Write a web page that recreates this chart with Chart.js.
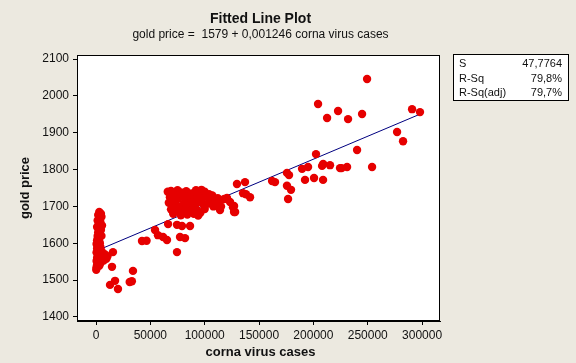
<!DOCTYPE html>
<html>
<head>
<meta charset="utf-8">
<script src="https://cdn.jsdelivr.net/npm/chart.js@4"></script>
<style>
  html, body { margin: 0; padding: 0; background: #ece9e0; }
  #wrap { width: 576px; height: 363px; position: relative; box-sizing: border-box; border-left: 1px solid #555; border-right: 1px solid #555; }
  canvas { position: absolute; left: -1px; top: 0; }
</style>
</head>
<body>
<div id="wrap"><canvas id="fitChart" width="576" height="363"></canvas></div>
<script>
// corna virus cases vs gold price
const casesX = [
  3000, 4500, 2000, 5000, 3500, 1500, 4000, 2500, 5500, 1000, 3000, 4500, 2000, 3500, 1500, 2500, 1000, 3000, 500, 2000,
  4000, 1000, 3000, 5000, 500, 2000, 4000, 6000, 8000, 1000, 3000, 5000, 7000, 9500, 500, 2000, 4000, 1000, 3000, 500,
  200, 6000, 8000, 1500, 3500, 2500, 5000, 3500, 6500, 10500,
  15600, 14700, 34000, 31000, 33000, 17500, 12900, 20200,
  42300, 46500, 54300, 57000, 61700, 65300, 66300, 74500, 79100, 86500, 74500, 77300, 81900,
  66000, 69000, 75000, 78000, 83000, 88000, 92000, 97000, 100000, 104000, 107000,
  68000, 72000, 76000, 80000, 84000, 87000, 90000, 94000, 98000, 101000, 106000, 110000,
  67000, 70000, 73000, 77000, 81000, 85000, 88000, 91000, 95000, 99000, 103000, 108000,
  69000, 73000, 76000, 79000, 82000, 86000, 89000, 93000, 96000, 100000,
  71000, 78000, 84000, 90000, 94000,
  112000, 114000, 118000, 120500, 123300, 114100, 126000, 128000, 129700, 137100, 135300, 138000, 141700,
  111000, 115000, 127000, 127000,
  162000, 164700, 175700, 177600, 175700, 179400, 176700, 189600, 195100, 192300, 200600, 208900, 202400, 208000,
  209000, 215300, 224500, 226000, 231000, 249400, 204300, 212600, 222700, 231900, 244800, 290800, 298100, 277000,
  282500, 240200, 254000
];
const goldPrice = [
  1685, 1680, 1677, 1672, 1668, 1662, 1658, 1652, 1648, 1644, 1640, 1636, 1630, 1625, 1620, 1614, 1608, 1603, 1598, 1594,
  1590, 1586, 1582, 1579, 1575, 1572, 1568, 1565, 1563, 1561, 1558, 1556, 1553, 1558, 1552, 1549, 1546, 1542, 1539, 1535,
  1528, 1572, 1570, 1590, 1600, 1610, 1620, 1648, 1560, 1565,
  1576, 1536, 1525, 1495, 1497, 1498, 1487, 1476,
  1606, 1607, 1636, 1622, 1617, 1609, 1652, 1650, 1647, 1647, 1576, 1617, 1614,
  1740, 1742, 1744, 1738, 1741, 1735, 1744, 1745, 1740, 1733, 1730,
  1725, 1730, 1722, 1728, 1720, 1725, 1718, 1730, 1722, 1728, 1720, 1715,
  1710, 1705, 1712, 1700, 1708, 1702, 1710, 1698, 1712, 1705, 1708, 1700,
  1692, 1688, 1695, 1684, 1690, 1686, 1695, 1690, 1683, 1693,
  1680, 1676, 1678, 1680, 1675,
  1722, 1716, 1720, 1723, 1712, 1690, 1698, 1685, 1761, 1766, 1736, 1733, 1725,
  1705, 1700, 1701, 1685,
  1769, 1766, 1791, 1785, 1756, 1745, 1720, 1802, 1807, 1772, 1777, 1772, 1842, 1810,
  1815, 1812, 1804, 1804, 1807, 2046, 1978, 1940, 1959, 1937, 1951, 1964, 1956, 1902,
  1877, 1853, 1807
];
const xTicks = [0, 50000, 100000, 150000, 200000, 250000, 300000];
const yTicks = [1400, 1500, 1600, 1700, 1800, 1900, 2000, 2100];
const fitIntercept = 1579;
const fitSlope = 0.001246;
const statLabels = ['S', 'R-Sq', 'R-Sq(adj)'];
const statValues = ['47,7764', '79,8%', '79,7%'];

const points = casesX.map((x, i) => ({ x: x, y: goldPrice[i] }));
const xMin = Math.min(...casesX), xMax = Math.max(...casesX);
const fitLine = [xMin, xMax].map(x => ({ x: x, y: fitIntercept + fitSlope * x }));

const FONT = '"Liberation Sans", Arial, sans-serif';

const decorPlugin = {
    id: 'decor',
    beforeDraw(chart) {
        const c = chart.ctx, a = chart.chartArea;
        c.save();
        c.fillStyle = '#ece9e0';
        c.fillRect(0, 0, chart.width, chart.height);
        c.fillStyle = '#fff';
        c.fillRect(a.left, a.top, a.right - a.left, a.bottom - a.top);
        c.restore();
    },
    afterDraw(chart) {
        const c = chart.ctx, a = chart.chartArea;
        const cx = (a.left + a.right) / 2 + 2;
        c.save();
        c.strokeStyle = '#000';
        c.lineWidth = 1;
        c.strokeRect(a.left + 0.5, a.top + 0.5, a.right - a.left - 1, a.bottom - a.top - 1);

        c.fillStyle = '#111';
        c.textAlign = 'center';
        c.textBaseline = 'middle';
        c.font = 'bold 14px ' + FONT;
        c.fillText('Fitted Line Plot', cx, 19);
        c.font = '12px ' + FONT;
        c.fillText('gold price =  1579 + 0,001246 corna virus cases', cx, 35);

        c.font = 'bold 13px ' + FONT;
        c.fillText('corna virus cases', cx, 352);
        c.save();
        c.translate(25, (a.top + a.bottom) / 2);
        c.rotate(-Math.PI / 2);
        c.fillText('gold price', 0, 0);
        c.restore();

        // stats box
        c.fillStyle = '#fff';
        c.fillRect(453, 54, 115, 46);
        c.strokeRect(453.5, 54.5, 115, 46);
        c.fillStyle = '#111';
        c.font = '11px ' + FONT;
        statLabels.forEach((lab, i) => {
            const y = 64 + i * 14.5;
            c.textAlign = 'left';
            c.fillText(lab, 459, y);
            c.textAlign = 'right';
            c.fillText(statValues[i], 562, y);
        });
        c.restore();
    }
};

const ctx = document.getElementById('fitChart');
new Chart(ctx.getContext('2d'), {
    data: {
        datasets: [{
            type: 'scatter',
            data: points,
            order: 1,
            pointRadius: 4.2,
            pointBackgroundColor: '#e60000',
            pointBorderColor: '#e60000',
            pointBorderWidth: 0
        }, {
            type: 'line',
            data: fitLine,
            order: 2,
            borderColor: '#000080',
            borderWidth: 1,
            pointRadius: 0,
            fill: false
        }]
    },
    plugins: [decorPlugin],
    options: {
        responsive: false,
        animation: false,
        layout: { padding: { left: 0, right: 136, top: 55, bottom: 0 } },
        plugins: {
            legend: { display: false },
            tooltip: { enabled: false }
        },
        scales: {
            x: {
                type: 'linear',
                min: -17500,
                max: 316500,
                afterBuildTicks: s => { s.ticks = xTicks.map(v => ({ value: v })); },
                afterFit: s => { s.height = 42; },
                grid: { drawOnChartArea: false, drawTicks: true, tickLength: 4, color: '#000' },
                border: { display: true, color: '#000' },
                ticks: { color: '#111', padding: 3, maxRotation: 0, autoSkip: false, font: { family: FONT, size: 12 }, callback: v => String(v) }
            },
            y: {
                type: 'linear',
                min: 1389,
                max: 2111,
                afterBuildTicks: s => { s.ticks = yTicks.map(v => ({ value: v })); },
                afterFit: s => { s.width = 77; },
                grid: { drawOnChartArea: false, drawTicks: true, tickLength: 4, color: '#000' },
                border: { display: true, color: '#000' },
                ticks: { color: '#111', padding: 4, autoSkip: false, font: { family: FONT, size: 12 }, callback: v => String(v) }
            }
        }
    }
});
</script>
</body>
</html>
